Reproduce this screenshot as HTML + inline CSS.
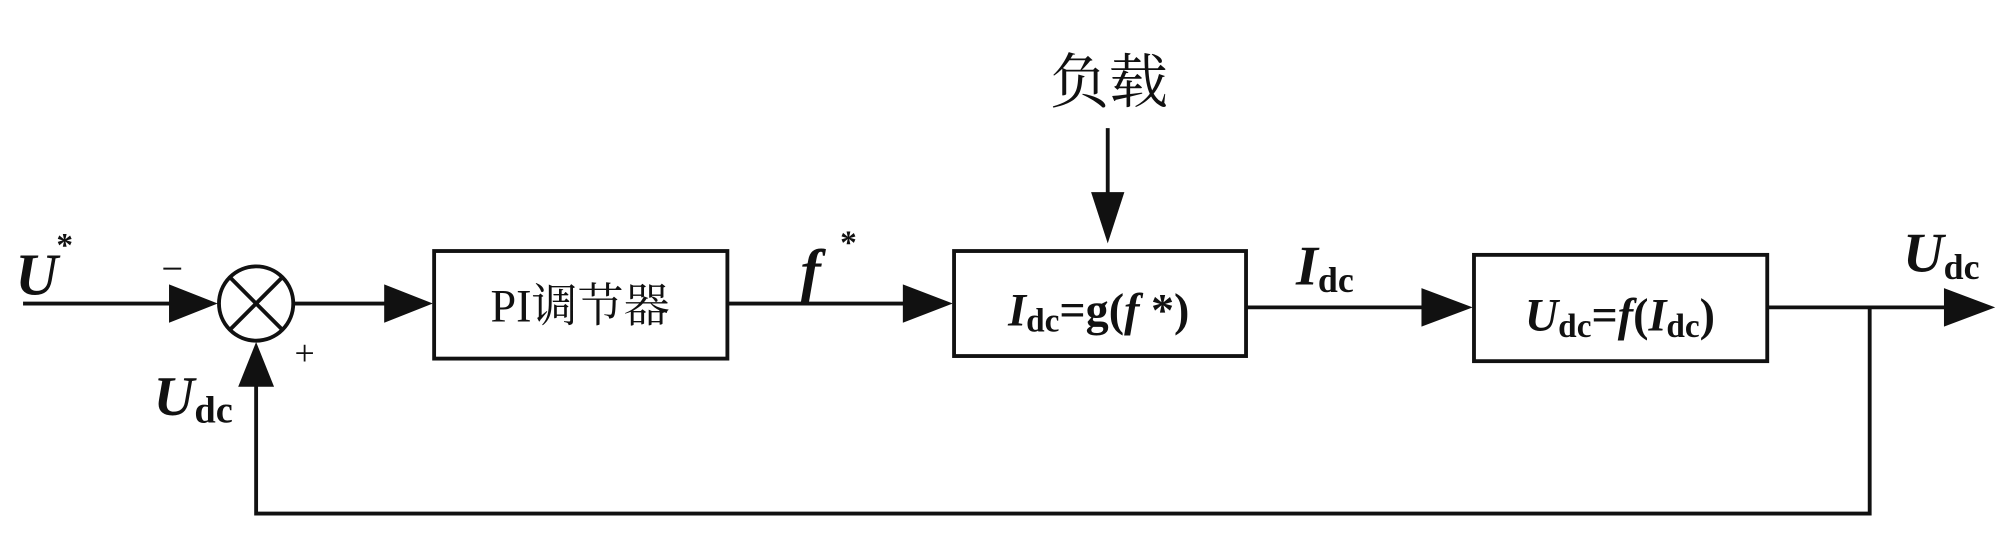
<!DOCTYPE html>
<html><head><meta charset="utf-8"><style>
html,body{margin:0;padding:0;background:#fff;}
svg{display:block;}
text{font-family:"Liberation Serif","Noto Serif CJK SC",serif;fill:#111;}
</style></head><body>
<svg width="2008" height="542" viewBox="0 0 1568 423.2" preserveAspectRatio="none" xmlns="http://www.w3.org/2000/svg">
<g stroke="#111" stroke-width="3" fill="none">
<line x1="18" y1="237" x2="140" y2="237"/>
<circle cx="200" cy="237" r="29"/>
<line x1="180" y1="217" x2="220" y2="257"/>
<line x1="220" y1="217" x2="180" y2="257"/>
<line x1="229" y1="237" x2="305" y2="237"/>
<rect x="339" y="196" width="229" height="84"/>
<line x1="568" y1="237" x2="710" y2="237"/>
<rect x="745" y="196" width="228" height="82"/>
<line x1="865" y1="100" x2="865" y2="160"/>
<line x1="973" y1="240" x2="1115" y2="240"/>
<rect x="1151" y="199" width="229" height="83"/>
<line x1="1380" y1="240" x2="1525" y2="240"/>
<polyline points="1460,240 1460,401 200,401 200,300"/>
</g>
<g fill="#111">
<polygon points="132,222 170,237 132,252"/>
<polygon points="300,222 338,237 300,252"/>
<polygon points="705,222 744,237 705,252"/>
<polygon points="852,150 878,150 865,190"/>
<polygon points="1110,225 1150,240 1110,255"/>
<polygon points="1518,225 1558,240 1518,255"/>
<polygon points="186,302 214,302 200,267"/>
</g>
<text x="12" y="230" font-size="46" font-style="italic" font-weight="bold">U</text>
<text x="44" y="200" font-size="26" font-weight="bold">*</text>
<text x="126" y="220" font-size="30">−</text>
<text x="230" y="285" font-size="28">+</text>
<text x="120" y="324" font-size="44" font-style="italic" font-weight="bold">U<tspan font-size="30" font-style="normal" dy="6">dc</tspan></text>
<text x="453" y="251" font-size="36" text-anchor="middle" font-family="Liberation Serif, Noto Serif CJK SC, serif">PI调节器</text>
<text x="625" y="228" font-size="48" font-style="italic" font-weight="bold">f</text>
<text x="656" y="198" font-size="26" font-weight="bold">*</text>
<text x="858" y="254" font-size="36" font-weight="bold" text-anchor="middle"><tspan font-style="italic">I</tspan><tspan font-size="26" dy="5">dc</tspan><tspan dy="-5">=g(</tspan><tspan font-style="italic">f</tspan> *)</text>
<text x="866" y="80" font-size="46" text-anchor="middle" font-family="Liberation Serif, Noto Serif CJK SC, serif">负载</text>
<text x="1012" y="222" font-size="44" font-style="italic" font-weight="bold">I<tspan font-size="28" font-style="normal" dy="6">dc</tspan></text>
<text x="1265" y="258" font-size="36" font-weight="bold" text-anchor="middle"><tspan font-style="italic">U</tspan><tspan font-size="26" dy="5">dc</tspan><tspan dy="-5">=</tspan><tspan font-style="italic">f</tspan>(<tspan font-style="italic">I</tspan><tspan font-size="26" dy="5">dc</tspan><tspan dy="-5">)</tspan></text>
<text x="1486" y="212" font-size="44" font-style="italic" font-weight="bold">U<tspan font-size="28" font-style="normal" dy="6">dc</tspan></text>
</svg>
</body></html>
